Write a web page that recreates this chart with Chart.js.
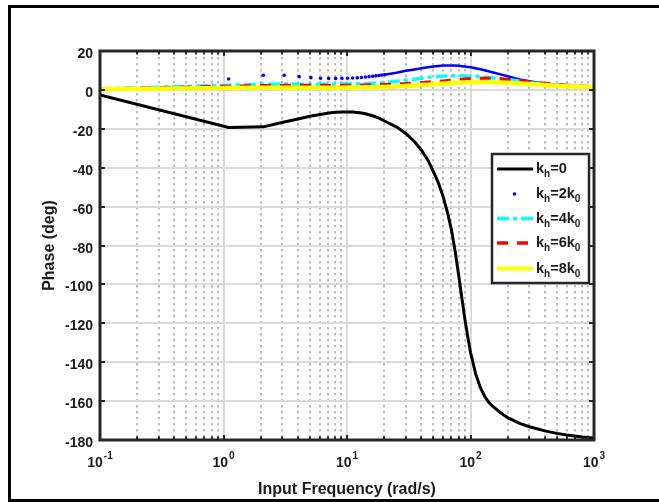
<!DOCTYPE html>
<html>
<head>
<meta charset="utf-8">
<title>Phase</title>
<script src="https://cdn.jsdelivr.net/npm/chart.js@4.4.0/dist/chart.umd.min.js"></script>
<style>
    html, body { margin: 0; padding: 0; background: #fff; }
    #phaseChart { display: block; }
</style>
</head>
<body>
<canvas id="phaseChart" width="659" height="502"></canvas>
<script>
// input frequency (rad/s), sampled every 1 rad/s from 0.1
const omega = [0.1, 1.1, 2.1, 3.1, 4.1, 5.1, 6.1, 7.1, 8.1, 9.1,
    10.1, 11.1, 12.1, 13.1, 14.1, 15.1, 16.1, 17.1, 18.1, 19.1,
    20.1, 25.1, 30.1, 35.1, 40.1, 45.1, 50.1, 55.1, 60.1, 65.1,
    70.1, 75.1, 80.1, 85.1, 90.1, 95.1, 100.1, 110.1, 120.1, 130.1,
    140.1, 150.1, 175.1, 200.1, 250.1, 300.1, 400.1, 500.1, 600.1, 800.1, 999.1];

// phase (deg)
const phaseK0 = [-2.6, -19.3, -19.0, -16.5, -14.8, -13.4, -12.6, -11.9, -11.5, -11.3,
    -11.3, -11.4, -11.6, -11.9, -12.3, -12.8, -13.3, -13.9, -14.5, -15.2,
    -16.0, -19.0, -22.5, -26.5, -31.0, -36.0, -42.0, -48.0, -55.0, -63.0,
    -72.0, -83.0, -95.0, -107.0, -118.0, -127.0, -135.0, -146.0, -153.0, -157.5,
    -160.5, -162.5, -166.0, -168.5, -171.5, -173.2, -175.3, -176.6, -177.4, -178.4, -179.0];
const phase2k0 = [0.5, 5.6, 7.5, 7.5, 6.8, 6.3, 6.0, 5.9, 5.9, 5.9,
    6.0, 6.1, 6.2, 6.4, 6.6, 6.8, 7.0, 7.2, 7.4, 7.6,
    7.8, 8.8, 9.8, 10.5, 11.1, 11.6, 12.0, 12.3, 12.5, 12.6,
    12.6, 12.5, 12.4, 12.2, 12.0, 11.8, 11.6, 11.1, 10.6, 10.1,
    9.6, 9.1, 8.0, 7.0, 5.4, 4.4, 3.2, 2.6, 2.2, 1.8, 1.5];
const phase4k0 = [0.5, 2.4, 2.9, 3.0, 2.9, 2.9, 2.9, 2.9, 2.9, 3.0,
    3.0, 3.0, 3.1, 3.1, 3.2, 3.3, 3.4, 3.5, 3.6, 3.7,
    3.8, 4.4, 5.0, 5.5, 6.0, 6.4, 6.7, 6.9, 7.1, 7.2,
    7.3, 7.3, 7.3, 7.3, 7.2, 7.2, 7.1, 7.0, 6.8, 6.6,
    6.4, 6.2, 5.8, 5.3, 4.5, 3.8, 3.0, 2.5, 2.2, 1.8, 1.5];
const phase6k0 = [0.4, 1.8, 2.1, 2.2, 2.2, 2.2, 2.2, 2.2, 2.2, 2.3,
    2.3, 2.3, 2.3, 2.4, 2.4, 2.5, 2.5, 2.6, 2.6, 2.7,
    2.7, 2.9, 3.1, 3.4, 3.6, 3.9, 4.1, 4.3, 4.5, 4.7,
    4.9, 5.1, 5.2, 5.4, 5.5, 5.6, 5.7, 5.8, 5.9, 5.9,
    5.9, 5.8, 5.6, 5.3, 4.7, 4.1, 3.3, 2.7, 2.3, 1.9, 1.5];
const phase8k0 = [0.3, 1.0, 1.1, 1.1, 1.1, 1.1, 1.1, 1.1, 1.1, 1.1,
    1.2, 1.2, 1.2, 1.3, 1.3, 1.3, 1.4, 1.4, 1.4, 1.5,
    1.5, 1.7, 2.0, 2.3, 2.5, 2.7, 2.9, 3.1, 3.2, 3.4,
    3.5, 3.6, 3.7, 3.8, 3.8, 3.9, 3.9, 4.0, 4.0, 4.0,
    4.0, 3.9, 3.8, 3.7, 3.3, 3.0, 2.5, 2.1, 1.9, 1.6, 1.4];

const xTicks = [0.1, 1, 10, 100, 1000];
const xTickExp = ['-1', '0', '1', '2', '3'];
const yTicks = [20, 0, -20, -40, -60, -80, -100, -120, -140, -160, -180];

// legend text pieces: [text, subscript?]
const legendLabels = [
    [['k', 0], ['h', 1], ['=0', 0]],
    [['k', 0], ['h', 1], ['=2k', 0], ['0', 1]],
    [['k', 0], ['h', 1], ['=4k', 0], ['0', 1]],
    [['k', 0], ['h', 1], ['=6k', 0], ['0', 1]],
    [['k', 0], ['h', 1], ['=8k', 0], ['0', 1]]
];

const FONT = '"Liberation Sans", Arial, sans-serif';
const INK = '#1a1a1a';

function toPoints(values) {
    return omega.map((w, i) => ({ x: w, y: values[i] }));
}

function strokeLine(ctx, x1, y1, x2, y2) {
    ctx.beginPath();
    ctx.moveTo(x1, y1);
    ctx.lineTo(x2, y2);
    ctx.stroke();
}

function minorValues() {
    let out = [];
    for (let d = 0; d < xTicks.length - 1; d++) {
        for (let k = 2; k <= 9; k++) out.push(xTicks[d] * k);
    }
    return out;
}

const legendStyles = [
    { color: '#000000', width: 2.8, dash: [] },
    { color: '#0000ff', dot: true },
    { color: '#00ffff', width: 3.5, dash: [12, 4, 4, 4] },
    { color: '#ff0000', width: 3.5, dash: [11, 9] },
    { color: '#ffff00', width: 4, dash: [] }
];

const phaseFrame = {
    id: 'phaseFrame',
    beforeDatasetsDraw(chart) {
        const ctx = chart.ctx;
        const area = chart.chartArea;
        const xs = chart.scales.x;
        const ys = chart.scales.y;
        ctx.save();
        ctx.lineWidth = 2;

        // minor grid (dotted)
        ctx.strokeStyle = '#bdbdbd';
        ctx.setLineDash([2.5, 3.5]);
        minorValues().forEach(v => {
            const x = Math.round(xs.getPixelForValue(v));
            strokeLine(ctx, x, area.top, x, area.bottom);
        });

        // major grid
        ctx.setLineDash([]);
        ctx.strokeStyle = '#dadada';
        xTicks.forEach(v => {
            const x = Math.round(xs.getPixelForValue(v));
            strokeLine(ctx, x, area.top, x, area.bottom);
        });
        yTicks.forEach(v => {
            const y = Math.round(ys.getPixelForValue(v));
            strokeLine(ctx, area.left, y, area.right, y);
        });
        ctx.restore();
    },
    afterDatasetsDraw(chart) {
        const ctx = chart.ctx;
        const area = chart.chartArea;
        const xs = chart.scales.x;
        const ys = chart.scales.y;
        ctx.save();

        // axes box
        ctx.strokeStyle = '#262626';
        ctx.lineWidth = 3;
        ctx.strokeRect(area.left, area.top, area.right - area.left, area.bottom - area.top);

        // inward ticks
        ctx.lineWidth = 2;
        xTicks.forEach(v => {
            const x = Math.round(xs.getPixelForValue(v));
            strokeLine(ctx, x, area.bottom, x, area.bottom - 5);
            strokeLine(ctx, x, area.top, x, area.top + 5);
        });
        minorValues().forEach(v => {
            const x = Math.round(xs.getPixelForValue(v));
            strokeLine(ctx, x, area.bottom, x, area.bottom - 3.5);
            strokeLine(ctx, x, area.top, x, area.top + 3.5);
        });
        yTicks.forEach(v => {
            const y = Math.round(ys.getPixelForValue(v));
            strokeLine(ctx, area.left, y, area.left + 5, y);
            strokeLine(ctx, area.right, y, area.right - 5, y);
        });

        // y tick labels
        ctx.fillStyle = INK;
        ctx.font = 'bold 14px ' + FONT;
        ctx.textAlign = 'right';
        ctx.textBaseline = 'alphabetic';
        yTicks.forEach(v => {
            ctx.fillText(String(v), area.left - 7, ys.getPixelForValue(v) + 7);
        });

        // x tick labels 10^n
        ctx.textAlign = 'left';
        xTicks.forEach((v, i) => {
            const px = xs.getPixelForValue(v);
            ctx.font = 'bold 14px ' + FONT;
            const baseW = ctx.measureText('10').width;
            ctx.font = 'bold 10px ' + FONT;
            const expW = ctx.measureText(xTickExp[i]).width;
            const x0 = px - (baseW + 1 + expW) / 2;
            ctx.font = 'bold 14px ' + FONT;
            ctx.fillText('10', x0, area.bottom + 27);
            ctx.font = 'bold 10px ' + FONT;
            ctx.fillText(xTickExp[i], x0 + baseW + 1, area.bottom + 19);
        });

        // axis titles
        ctx.font = 'bold 16px ' + FONT;
        ctx.textAlign = 'center';
        ctx.fillText('Input Frequency (rad/s)', (area.left + area.right) / 2, 494);
        ctx.save();
        ctx.translate(54, (area.top + area.bottom) / 2);
        ctx.rotate(-Math.PI / 2);
        ctx.fillText('Phase (deg)', 0, 0);
        ctx.restore();

        // legend
        const box = { left: 492, top: 154, right: 589, bottom: 283 };
        ctx.fillStyle = '#ffffff';
        ctx.fillRect(box.left, box.top, box.right - box.left, box.bottom - box.top);
        ctx.strokeStyle = '#262626';
        ctx.lineWidth = 2.5;
        ctx.strokeRect(box.left, box.top, box.right - box.left, box.bottom - box.top);

        const rowY = [169, 194, 218.5, 243, 268.5];
        legendStyles.forEach((s, i) => {
            const y = rowY[i];
            if (s.dot) {
                ctx.fillStyle = s.color;
                ctx.beginPath();
                ctx.arc(514.5, y, 1.8, 0, Math.PI * 2);
                ctx.fill();
            } else {
                ctx.strokeStyle = s.color;
                ctx.lineWidth = s.width;
                ctx.setLineDash(s.dash);
                strokeLine(ctx, 497, y, 533, y);
                ctx.setLineDash([]);
            }
            let x = 536;
            ctx.fillStyle = INK;
            ctx.textAlign = 'left';
            legendLabels[i].forEach(part => {
                ctx.font = (part[1] ? 'bold 10px ' : 'bold 14.5px ') + FONT;
                ctx.fillText(part[0], x, y + (part[1] ? 8 : 4));
                x += ctx.measureText(part[0]).width;
            });
        });

        ctx.restore();
    },
    afterDraw(chart) {
        // figure frame
        const ctx = chart.ctx;
        ctx.save();
        ctx.strokeStyle = '#000000';
        ctx.lineWidth = 3;
        strokeLine(ctx, 9.5, 6, 9.5, 501);
        strokeLine(ctx, 8, 6.5, 659, 6.5);
        strokeLine(ctx, 8, 500.5, 659, 500.5);
        ctx.restore();
    }
};

const ctx = document.getElementById('phaseChart');

new Chart(ctx, {
    type: 'line',
    data: {
        datasets: [
            {
                label: 'kh=0',
                data: toPoints(phaseK0),
                borderColor: '#000000',
                borderWidth: 3,
                pointRadius: 0,
                order: 5
            },
            {
                label: 'kh=2k0',
                data: toPoints(phase2k0),
                borderColor: '#0000ff',
                borderWidth: 2.5,
                pointRadius: c => c.dataIndex <= 20 ? 1.8 : 0,
                pointBackgroundColor: '#0000ff',
                pointBorderWidth: 0,
                segment: {
                    borderColor: c => c.p0DataIndex < 20 ? 'rgba(0,0,0,0)' : '#0000ff'
                },
                order: 4
            },
            {
                label: 'kh=4k0',
                data: toPoints(phase4k0),
                borderColor: '#00ffff',
                borderWidth: 3.5,
                borderDash: [12, 4, 4, 4],
                pointRadius: 0,
                order: 3
            },
            {
                label: 'kh=6k0',
                data: toPoints(phase6k0),
                borderColor: '#ff0000',
                borderWidth: 3.5,
                borderDash: [11, 9],
                pointRadius: 0,
                order: 2
            },
            {
                label: 'kh=8k0',
                data: toPoints(phase8k0),
                borderColor: '#ffff00',
                borderWidth: 4.5,
                pointRadius: 0,
                order: 1
            }
        ]
    },
    options: {
        responsive: false,
        animation: false,
        devicePixelRatio: 1,
        layout: {
            padding: { left: 100, top: 51, right: 65, bottom: 62 }
        },
        elements: {
            line: { tension: 0, fill: false, borderCapStyle: 'butt' }
        },
        scales: {
            x: { type: 'logarithmic', min: 0.1, max: 1000, display: false },
            y: { type: 'linear', min: -180, max: 20, display: false }
        },
        plugins: {
            legend: { display: false },
            tooltip: { enabled: false }
        }
    },
    plugins: [phaseFrame]
});
</script>
</body>
</html>
